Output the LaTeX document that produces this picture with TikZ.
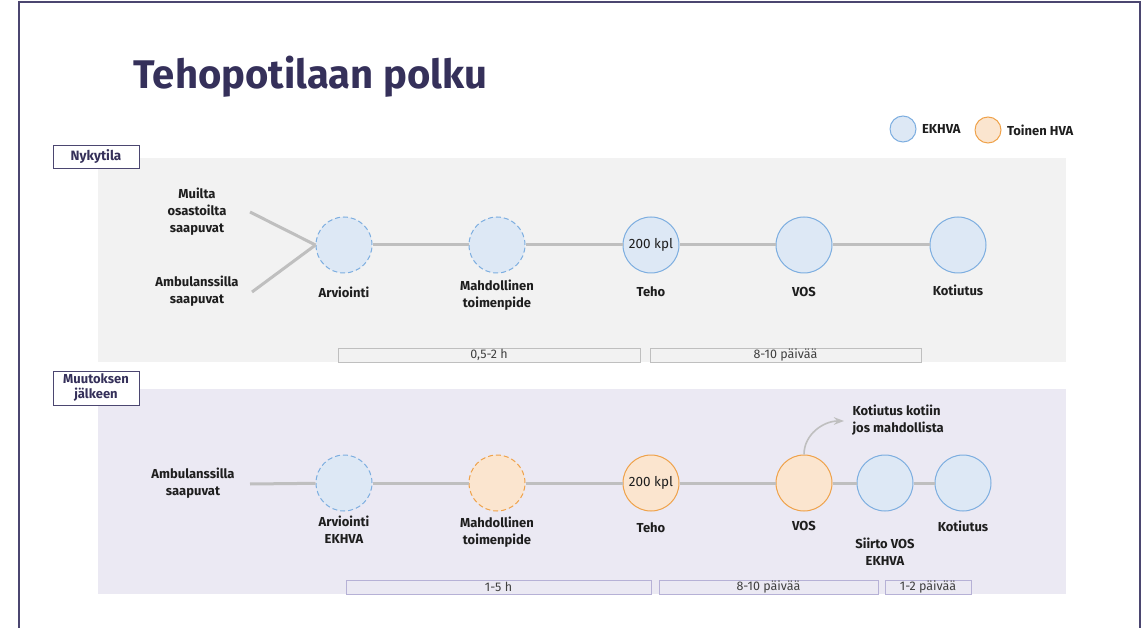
\documentclass[tikz,border=0pt]{standalone}
\usepackage{fontspec}
\setmainfont{Fira Sans}
\usetikzlibrary{arrows.meta,positioning}

\definecolor{titlec}{HTML}{35305A}
\definecolor{framec}{HTML}{4B4670}
\definecolor{panelA}{HTML}{F2F2F2}
\definecolor{panelB}{HTML}{EBE9F3}
\definecolor{linec}{HTML}{BFBFBF}
\definecolor{bluef}{HTML}{DDE8F5}
\definecolor{blued}{HTML}{7DAEE0}
\definecolor{orangef}{HTML}{FBE5CF}
\definecolor{oranged}{HTML}{EFA24A}
\definecolor{lavd}{HTML}{B6B1D6}
\definecolor{textc}{HTML}{1E1E1E}

\begin{document}
\begin{tikzpicture}[
      x=1pt, y=-1pt,
      >=Stealth,
      vaihe/.style={circle, minimum size=56pt, inner sep=0pt, line width=1pt,
                    font=\fontsize{13.5}{15}\selectfont, text=textc},
      ekhva/.style={vaihe, draw=blued, fill=bluef},
      hva/.style={vaihe, draw=oranged, fill=orangef},
      arvio/.style={dashed, dash pattern=on 5pt off 3pt},
      nimi/.style={font=\fontsize{13}{17}\selectfont\bfseries, text=textc, align=center},
      kesto/.style={draw=linec, fill=panelA, line width=0.8pt, minimum height=14pt,
                    inner sep=0pt, font=\fontsize{12.5}{13}\selectfont, text=textc!85},
      kestoB/.style={kesto, draw=lavd, fill=panelB},
      tila/.style={draw=framec, fill=white, line width=0.9pt, align=center,
                   minimum width=86pt, inner sep=1pt,
                   font=\fontsize{13.5}{15}\selectfont\bfseries, text=titlec},
      polku/.style={linec, line width=3pt}
  ]
      \useasboundingbox (0,0) rectangle (1146,628);

      % Kehys ja otsikko
      \draw[framec, line width=1.2pt] (19,628) -- (19,2) -- (1140,2) -- (1140,628);
      \node[anchor=base west, text=titlec, font=\fontsize{40}{44}\selectfont\bfseries]
            (otsikko) at (130,89) {Tehopotilaan polku};

      % Selite
      \node[ekhva, minimum size=26pt] (selA) at (903,129) {};
      \node[nimi, right=2pt of selA] (selAt) {EKHVA};
      \node[hva, minimum size=26pt] (selB) at (988,130) {};
      \node[nimi, right=2pt of selB] (selBt) {Toinen HVA};

      % Taustapaneelit
      \fill[panelA] (98,158) rectangle (1066,362);
      \fill[panelB] (98,389) rectangle (1066,594);
      \node[tila, minimum height=23pt] (nyky) at (96,156.5) {Nykytila};
      \node[tila, minimum height=34pt, font=\fontsize{13}{15}\selectfont\bfseries]
            (muutos) at (96,388) {Muutoksen\\jälkeen};

      % Nykytila: vaiheet
      \node[ekhva, arvio] (arv1)  at (344,245) {};
      \node[ekhva, arvio] (mah1)  at (497,245) {};
      \node[ekhva]        (teho1) at (651,245) {200 kpl};
      \node[ekhva]        (vos1)  at (804,245) {};
      \node[ekhva]        (kot1)  at (958,245) {};

      \node[nimi] (muilta) at (197,212) {Muilta\\osastoilta\\saapuvat};
      \node[nimi] (ambu1)  at (197,291) {Ambulanssilla\\saapuvat};
      \coordinate (muiltaE) at (250,212);
      \coordinate (ambu1E)  at (252,292);

      \draw[polku] (muiltaE) -- (arv1.west);
      \draw[polku] (ambu1E) -- (arv1.west);
      \draw[polku] (arv1) -- (mah1);
      \draw[polku] (mah1) -- (teho1);
      \draw[polku] (teho1) -- (vos1);
      \draw[polku] (vos1) -- (kot1);

      \node[nimi] (arv1l)  at (344,292) {Arviointi};
      \node[nimi] (mah1l)  at (497,295) {Mahdollinen\\toimenpide};
      \node[nimi] (teho1l) at (651,292) {Teho};
      \node[nimi] (vos1l)  at (804,292) {VOS};
      \node[nimi] (kot1l)  at (958,290) {Kotiutus};

      \node[kesto, minimum width=302pt] (aika1) at (489,355) {0,5-2 h};
      \node[kesto, minimum width=271pt] (aika2) at (785.5,355) {8-10 päivää};

      % Muutoksen jälkeen: vaiheet
      \node[ekhva, arvio] (arv2)  at (344,483) {};
      \node[hva, arvio]   (mah2)  at (497,483) {};
      \node[hva]          (teho2) at (651,483) {200 kpl};
      \node[hva]          (vos2)  at (804,483) {};
      \node[ekhva]        (sii2)  at (885,483) {};
      \node[ekhva]        (kot2)  at (963,483) {};

      \node[nimi] (ambu2) at (193,483) {Ambulanssilla\\saapuvat};
      \coordinate (ambu2E) at (250,484);

      \draw[polku] (ambu2E) -- (arv2);
      \draw[polku] (arv2) -- (mah2);
      \draw[polku] (mah2) -- (teho2);
      \draw[polku] (teho2) -- (vos2);
      \draw[polku] (vos2) -- (sii2);
      \draw[polku] (sii2) -- (kot2);

      \node[nimi] (arv2l)  at (344,530) {Arviointi\\EKHVA};
      \node[nimi] (mah2l)  at (497,532) {Mahdollinen\\toimenpide};
      \node[nimi] (teho2l) at (651,528) {Teho};
      \node[nimi] (vos2l)  at (804,526) {VOS};
      \node[nimi] (sii2l)  at (885,552) {Siirto VOS\\EKHVA};
      \node[nimi] (kot2l)  at (963,526) {Kotiutus};

      % Kotiutus suoraan kotiin
      \node[nimi, align=left, anchor=west] (kotiin) at (849,420) {Kotiutus kotiin\\jos mahdollista};
      \coordinate (kotiinW) at (844,421);
      \draw[->, linec, line width=1.6pt] (vos2.north) to[out=90, in=180] (kotiinW);

      \node[kestoB, minimum width=305pt] (aika3) at (498.5,587) {1-5 h};
      \node[kestoB, minimum width=219pt] (aika4) at (768.5,587) {8-10 päivää};
      \node[kestoB, minimum width=86pt]  (aika5) at (928,587) {1-2 päivää};
  \end{tikzpicture}
\end{document}
